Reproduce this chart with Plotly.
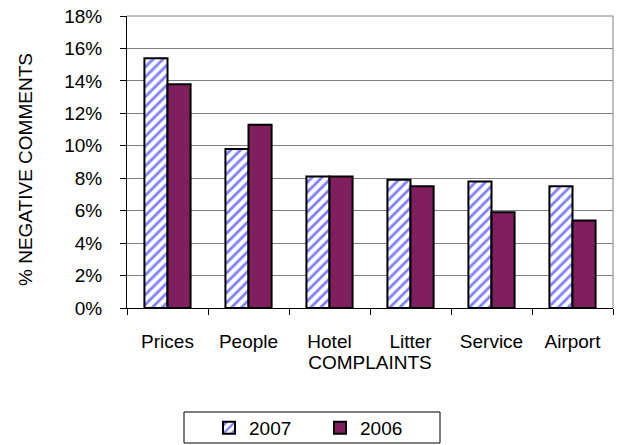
import plotly.graph_objects as go

# Survey results: share of negative comments per complaint category
categories = ["Prices", "People", "Hotel", "Litter", "Service", "Airport"]
values_2007 = [0.154, 0.098, 0.081, 0.079, 0.078, 0.075]
values_2006 = [0.138, 0.113, 0.081, 0.075, 0.059, 0.054]
y_ticks = [0, 0.02, 0.04, 0.06, 0.08, 0.10, 0.12, 0.14, 0.16, 0.18]

FONT = "Liberation Sans, Arial, sans-serif"
FS = 19

# Plot-area geometry in pixels (used to place the legend frame and y title)
L, R, T, B = 127, 5, 16, 137
W, H = 618, 445
PW, PH = W - L - R, H - T - B

fig = go.Figure()
fig.add_trace(go.Bar(
    name="2007", x=categories, y=values_2007,
    marker=dict(
        color="white",
        line=dict(color="black", width=2),
        pattern=dict(shape="/", fgcolor="#8080ff", bgcolor="white",
                     size=7, solidity=0.4, fillmode="replace"),
    ),
))
fig.add_trace(go.Bar(
    name="2006", x=categories, y=values_2006,
    marker=dict(color="#801f5e", line=dict(color="black", width=2)),
))

fig.update_layout(
    width=W, height=H,
    margin=dict(l=L, r=R, t=T, b=B, autoexpand=False),
    paper_bgcolor="white", plot_bgcolor="white",
    font=dict(family=FONT, size=FS, color="black"),
    barmode="group", bargap=0.43, bargroupgap=0,
    showlegend=True,
    legend=dict(
        orientation="h", xref="container", x=320 / W, xanchor="center",
        yref="container", y=1 - 428 / H, yanchor="middle",
        borderwidth=0, bgcolor="rgba(0,0,0,0)",
        font=dict(size=FS), entrywidth=66, entrywidthmode="pixels",
        itemwidth=30,
    ),
)

fig.update_xaxes(
    type="category", tickson="boundaries", automargin=False,
    ticks="outside", ticklen=6, tickcolor="black",
    showline=True, linecolor="black", linewidth=1,
    ticklabelstandoff=16,
    title=dict(text="COMPLAINTS", standoff=4, font=dict(size=FS)),
)
fig.update_yaxes(
    range=[0, 0.18], tickvals=y_ticks, tickformat=".0%", automargin=False,
    ticks="outside", ticklen=6, tickcolor="black",
    showline=True, linecolor="black", linewidth=1,
    showgrid=True, gridcolor="#808080", gridwidth=1,
    ticklabelstandoff=14,
)

# Y-axis title
fig.add_annotation(
    text="% NEGATIVE COMMENTS", textangle=-90, showarrow=False,
    xref="paper", yref="paper",
    x=(25 - L) / PW, y=(T + PH - 170) / PH,
    xanchor="center", yanchor="middle",
    font=dict(size=FS),
)

# Grey frame on top and right of the plot area
fig.add_shape(type="line", xref="paper", yref="paper", x0=1, x1=1, y0=0, y1=1,
              line=dict(color="#808080", width=1))
fig.add_shape(type="line", xref="paper", yref="paper", x0=0, x1=1, y0=1, y1=1,
              line=dict(color="#808080", width=1))

# Legend frame
fig.add_shape(type="rect", xref="paper", yref="paper",
              x0=(184 - L) / PW, x1=(440 - L) / PW,
              y0=(T + PH - 443) / PH, y1=(T + PH - 412) / PH,
              line=dict(color="black", width=1), fillcolor="rgba(0,0,0,0)")

fig.write_html("out.html")
